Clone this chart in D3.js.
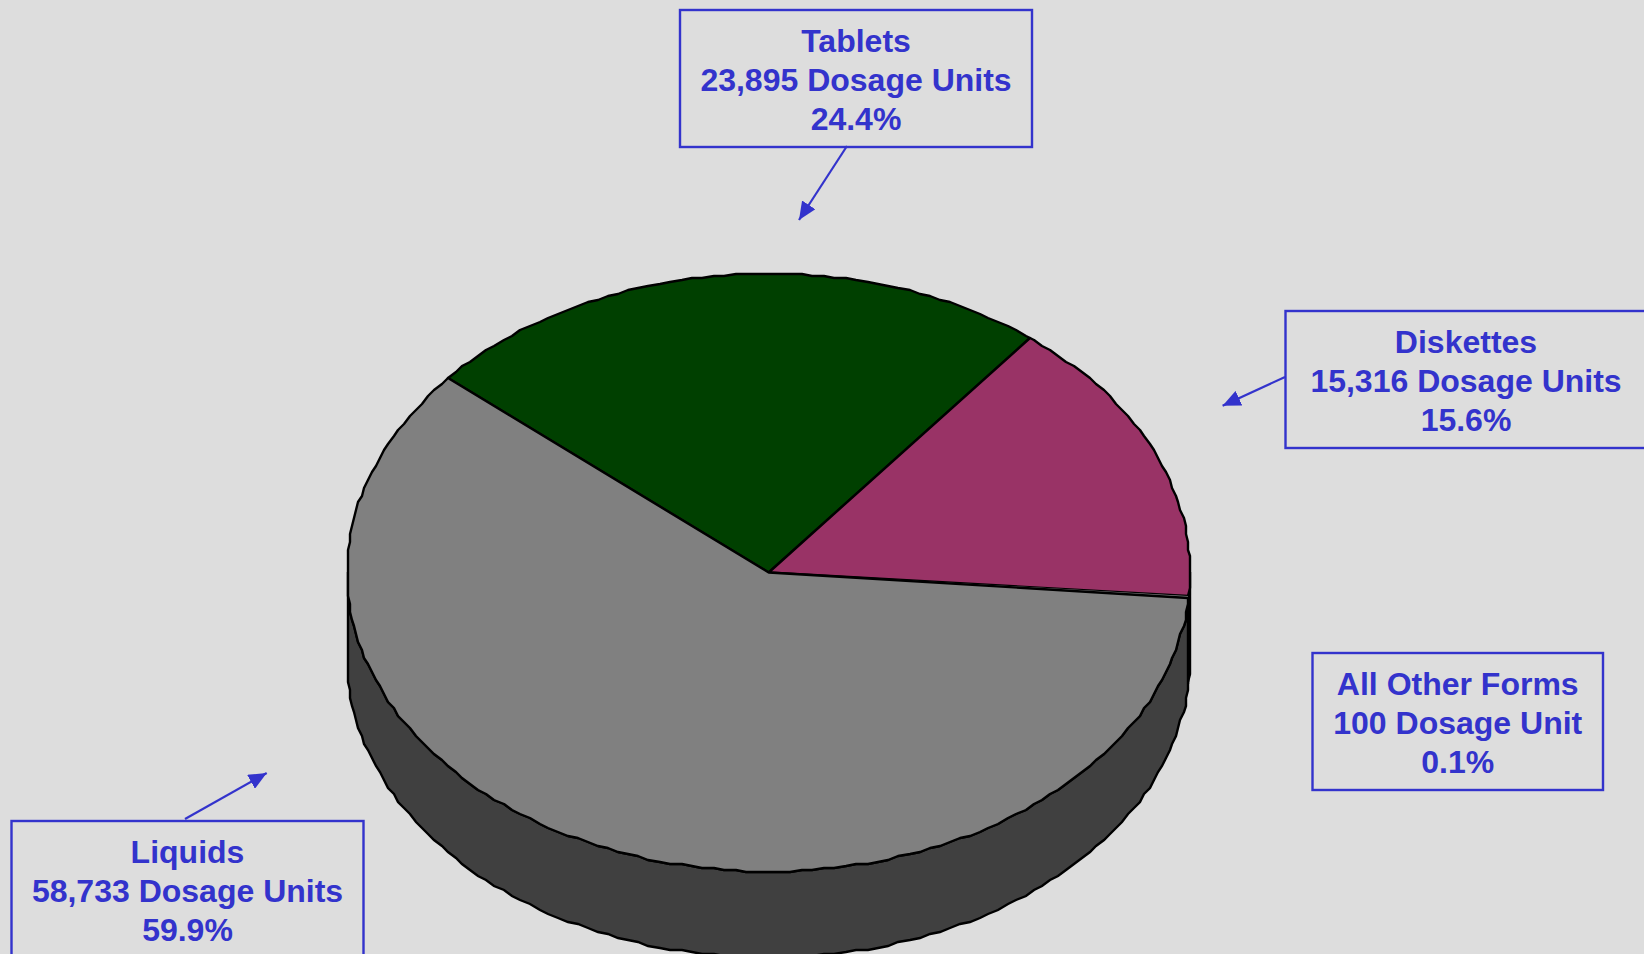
<!DOCTYPE html>
<html>
<head>
<meta charset="utf-8">
<script src="https://cdn.jsdelivr.net/npm/d3@7"></script>
<style>
    html, body { margin: 0; padding: 0; background: #dddddd; overflow: hidden; }
    text { font-family: "Liberation Sans", Arial, sans-serif; font-weight: bold; font-size: 32px; fill: #3333cc; text-anchor: middle; }
</style>
</head>
<body>
<script>
// slices clockwise from the Tablets edge
const categories = ["Tablets", "Diskettes", "All Other Forms", "Liquids"];
const dosageUnits = [23895, 15316, 100, 58733];
const unitLabels = ["23,895 Dosage Units", "15,316 Dosage Units", "100 Dosage Unit", "58,733 Dosage Units"];
const percentLabels = ["24.4%", "15.6%", "0.1%", "59.9%"];
const topColors = ["#004000", "#993366", "#808080", "#808080"];
const sideColors = ["#002000", "#4d1a33", "#000000", "#404040"];

const width = 1644,
    height = 954,
    cx = 768.7,
    cy = 572.5,
    rx = 421.5,
    ry = 299,
    depth = 86,
    blue = "#3333cc",
    lineGap = 38.8,
    snap = 2;

const deg = Math.PI / 180;

let svg = d3.select("body").append("svg")
    .attr("width", width)
    .attr("height", height)
    .style("display", "block");

let pie = d3.pie().sort(null)
    .startAngle(-49.4 * deg)
    .endAngle(310.6 * deg);
let slices = pie(dosageUnits);

// the original outline is a coarse polygon, so points get snapped to a small grid
const rough = v => Math.round(v / snap) * snap;
const px = a => rough(cx + rx * Math.sin(a));
const py = a => rough(cy - ry * Math.cos(a));

// shared angle steps so the wall and the top face use the same rim points
const step = 1.5 * deg;
const anglesBetween = (a0, a1) => [a0]
    .concat(d3.range(Math.ceil(a0 / step + 0.01), a1 / step).map(i => i * step))
    .concat([a1]);

// side wall, only the part of each slice facing the viewer
let wall = d3.area()
    .x(px)
    .y0(py)
    .y1(a => py(a) + depth);

svg.append("g").selectAll("path")
    .data(slices.filter(d => d.endAngle > 90 * deg && d.startAngle < 270 * deg))
    .enter()
    .append("path")
        .attr("d", d => wall(anglesBetween(Math.max(d.startAngle, 90 * deg), Math.min(d.endAngle, 270 * deg))))
        .attr("fill", d => sideColors[d.index])
        .attr("stroke", "#000")
        .attr("stroke-width", 2.4);

// top face, centre point then the rim of the slice
let rim = d3.line();
svg.append("g").selectAll("path")
    .data(slices)
    .enter()
    .append("path")
        .attr("d", d => rim([[cx, cy]].concat(anglesBetween(d.startAngle, d.endAngle).map(a => [px(a), py(a)]))) + "Z")
        .attr("fill", d => topColors[d.index])
        .attr("stroke", "#000")
        .attr("stroke-width", d => d.index === 2 ? 0 : 2.4)
        .attr("stroke-linejoin", "round");

svg.append("defs").append("marker")
    .attr("id", "head")
    .attr("viewBox", "0 0 18 16")
    .attr("refX", 18)
    .attr("refY", 8)
    .attr("markerUnits", "userSpaceOnUse")
    .attr("markerWidth", 18)
    .attr("markerHeight", 16)
    .attr("orient", "auto")
    .append("path")
        .attr("d", "M0,0L18,8L0,16Z")
        .attr("fill", blue);

// callouts: box corner, arrow start and tip, same order as categories
const boxes = [
    {x: 680, y: 10, w: 352, h: 137, arrow: [847, 146, 799, 220]},
    {x: 1285.5, y: 311, w: 362, h: 137, arrow: [1285, 377, 1222.6, 405.7]},
    {x: 1312.5, y: 653, w: 290.5, h: 137, arrow: null},
    {x: 11.5, y: 821, w: 352, h: 137, arrow: [185, 819, 266.7, 773]}
];

let callouts = svg.append("g").selectAll("g")
    .data(boxes)
    .enter()
    .append("g");

callouts.append("rect")
    .attr("x", d => d.x)
    .attr("y", d => d.y)
    .attr("width", d => d.w)
    .attr("height", d => d.h)
    .attr("fill", "none")
    .attr("stroke", blue)
    .attr("stroke-width", 2.4);

callouts.filter(d => d.arrow).append("line")
    .attr("x1", d => d.arrow[0])
    .attr("y1", d => d.arrow[1])
    .attr("x2", d => d.arrow[2])
    .attr("y2", d => d.arrow[3])
    .attr("stroke", blue)
    .attr("stroke-width", 2.2)
    .attr("marker-end", "url(#head)");

[categories, unitLabels, percentLabels].forEach((labels, row) => {
    callouts.append("text")
        .attr("x", (d, i) => i === 1 ? 1466 : d.x + d.w / 2)
        .attr("y", d => d.y + 42.4 + row * lineGap)
        .text((d, i) => labels[i]);
});
</script>
</body>
</html>
